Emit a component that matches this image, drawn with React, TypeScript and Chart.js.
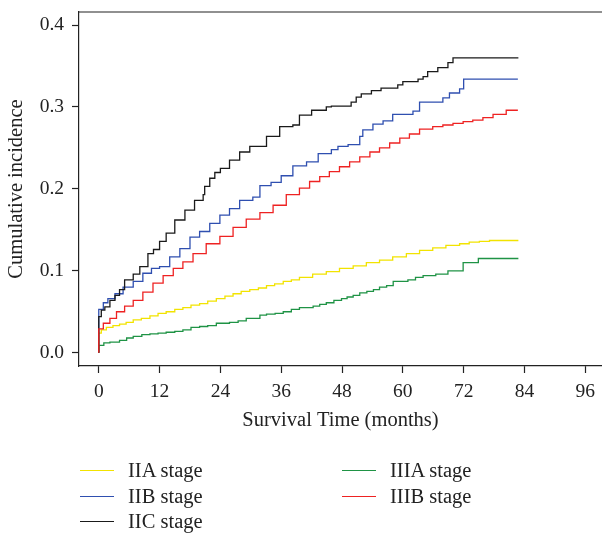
import React, { useEffect, useRef } from "react";
import { Chart, registerables } from "chart.js";

Chart.register(...registerables);

const FONT = '"Liberation Serif", "DejaVu Serif", serif';
const INK = "#222222";

// Axis ticks
const X_TICKS = [0, 12, 24, 36, 48, 60, 72, 84, 96];
const Y_TICKS = [0, 0.1, 0.2, 0.3, 0.4];
const X_MIN = -3.9;
const X_MAX = 99.3;
const Y_MIN = -0.0162;
const Y_MAX = 0.4159;

// IIA stage
const IIA_T = [0, 0, 0.5, 1.5, 2.8, 4.1, 5.4, 6.8, 8.4, 10.1, 11.7, 13.3, 15, 16.6, 18.2, 19.9, 21.5, 23.2, 24.9, 26.5, 28.1, 29.8, 31.5, 33.1, 34.7, 36.4, 38, 39.6, 42.2, 44.9, 47.5, 50.2, 52.8, 55.4, 58, 60.7, 63.3, 65.9, 68.5, 71.2, 73.1, 75.1, 77.1, 79.1, 82.8];
const IIA_V = [0, 0.016, 0.024, 0.028, 0.031, 0.033, 0.035, 0.037, 0.04, 0.042, 0.045, 0.048, 0.05, 0.053, 0.055, 0.058, 0.06, 0.063, 0.066, 0.069, 0.072, 0.075, 0.077, 0.079, 0.082, 0.084, 0.087, 0.089, 0.092, 0.096, 0.099, 0.103, 0.106, 0.11, 0.113, 0.117, 0.121, 0.125, 0.128, 0.131, 0.133, 0.135, 0.136, 0.137, 0.137];

// IIB stage
const IIB_T = [0, 0, 0.9, 1.8, 3.2, 4.8, 6.8, 8.7, 10.4, 12, 14, 16, 18, 19.9, 21.9, 23.9, 25.8, 27.8, 30.4, 31.8, 34, 36, 38.3, 41, 43.3, 45.9, 47.2, 49.2, 51.5, 52.1, 54.1, 56.1, 58, 62, 63.3, 67.9, 69.2, 71.2, 72, 73, 82.7];
const IIB_V = [0, 0.042, 0.053, 0.061, 0.066, 0.072, 0.08, 0.087, 0.097, 0.103, 0.105, 0.117, 0.127, 0.141, 0.148, 0.158, 0.168, 0.176, 0.186, 0.19, 0.204, 0.208, 0.216, 0.228, 0.233, 0.243, 0.248, 0.252, 0.254, 0.264, 0.272, 0.279, 0.283, 0.291, 0.295, 0.306, 0.311, 0.317, 0.322, 0.334, 0.334];

// IIC stage
const IIC_T = [0, 0, 0.5, 1.2, 2.2, 3.2, 4.1, 5.1, 6.8, 8.1, 9.7, 10.8, 12, 13.3, 15, 17, 18.9, 20.6, 20.9, 21.9, 22.9, 24, 25.8, 27.8, 29.8, 33.1, 35.7, 38.3, 39.6, 42, 44.9, 45.9, 49.8, 50.8, 51.8, 53.8, 55.7, 59, 60, 63, 64, 64.9, 66.9, 68.9, 69.9, 71.9, 82.8];
const IIC_V = [0, 0.036, 0.044, 0.052, 0.056, 0.064, 0.07, 0.077, 0.089, 0.096, 0.105, 0.121, 0.126, 0.136, 0.146, 0.162, 0.174, 0.186, 0.193, 0.203, 0.213, 0.22, 0.225, 0.235, 0.245, 0.252, 0.264, 0.276, 0.278, 0.29, 0.296, 0.3, 0.301, 0.306, 0.312, 0.316, 0.32, 0.323, 0.327, 0.331, 0.334, 0.337, 0.343, 0.348, 0.354, 0.36, 0.36];

// IIIA stage
const IIIA_T = [0, 0, 1, 2.2, 4.1, 5.5, 6.8, 8.5, 10.1, 11.7, 13.3, 15, 16.6, 18.2, 19.9, 21.5, 23.2, 25.8, 27.5, 29.1, 31.8, 33.1, 34.8, 36.4, 38, 39.6, 42.3, 43.6, 44.9, 46.4, 47.9, 49, 50.2, 51.5, 52.9, 54.2, 55.4, 56.8, 58.1, 61, 62.5, 64, 66.5, 68.9, 71.9, 74.9, 75.9, 82.8];
const IIIA_V = [0, 0.003, 0.009, 0.012, 0.013, 0.015, 0.018, 0.02, 0.022, 0.023, 0.024, 0.025, 0.026, 0.028, 0.031, 0.032, 0.033, 0.036, 0.037, 0.039, 0.042, 0.046, 0.047, 0.048, 0.05, 0.053, 0.055, 0.057, 0.059, 0.061, 0.064, 0.066, 0.068, 0.07, 0.073, 0.075, 0.077, 0.08, 0.082, 0.087, 0.089, 0.092, 0.094, 0.096, 0.1, 0.11, 0.115, 0.115];

// IIIB stage
const IIIB_T = [0, 0, 0.9, 2.2, 3.5, 5.1, 6.8, 8.7, 10.7, 12.7, 14.7, 16.6, 18.6, 21.2, 23.9, 26.5, 29.1, 31.8, 34.4, 37, 39.6, 41.6, 43.6, 45.5, 47.5, 49.5, 51.5, 53.5, 55.4, 57.4, 59.4, 61.3, 63.3, 65.9, 67.9, 69.9, 71.9, 73.8, 75.8, 77.8, 80.4, 82.7];
const IIIB_V = [0, 0.02, 0.029, 0.036, 0.042, 0.05, 0.057, 0.064, 0.074, 0.085, 0.094, 0.103, 0.111, 0.121, 0.133, 0.142, 0.153, 0.163, 0.171, 0.18, 0.193, 0.201, 0.209, 0.215, 0.221, 0.227, 0.233, 0.239, 0.245, 0.25, 0.256, 0.262, 0.267, 0.273, 0.276, 0.278, 0.28, 0.282, 0.284, 0.287, 0.291, 0.296];

const LABELS = ["IIA stage", "IIB stage", "IIC stage", "IIIA stage", "IIIB stage"];
const COLORS = ["#f2e300", "#2f4fb0", "#1a1a1a", "#1f9345", "#ee2222"];
const TIMES = [IIA_T, IIB_T, IIC_T, IIIA_T, IIIB_T];
const VALUES = [IIA_V, IIB_V, IIC_V, IIIA_V, IIIB_V];

export default function App() {
  const ref = useRef<HTMLCanvasElement>(null);

  useEffect(() => {
    if (!ref.current) return;
    const topBorder = {
      id: "topBorder",
      afterDatasetsDraw(chart: any) {
        const { ctx, chartArea } = chart;
        ctx.save();
        ctx.strokeStyle = INK;
        ctx.lineWidth = 1.2;
        ctx.beginPath();
        ctx.moveTo(chartArea.left, chartArea.top);
        ctx.lineTo(chartArea.right, chartArea.top);
        ctx.stroke();
        ctx.restore();
      },
    };
    const order = [3, 0, 1, 2, 4];
    const chart = new Chart(ref.current, {
      type: "line",
      data: {
        datasets: LABELS.map((label, i) => ({
          label,
          data: TIMES[i].map((t, j) => ({ x: t, y: VALUES[i][j] })),
          borderColor: COLORS[i],
          backgroundColor: COLORS[i],
          borderWidth: 1.3,
          pointRadius: 0,
          stepped: "after" as const,
          fill: false,
          order: 5 - order.indexOf(i),
        })),
      },
      options: {
        responsive: false,
        animation: false,
        events: [],
        layout: { padding: { top: 12, left: 0, right: 0, bottom: 0 } },
        plugins: { legend: { display: false }, tooltip: { enabled: false } },
        scales: {
          x: {
            type: "linear",
            min: X_MIN,
            max: X_MAX,
            afterBuildTicks: (s: any) => {
              s.ticks = X_TICKS.map((v) => ({ value: v }));
            },
            afterFit: (s: any) => {
              s.height = 169;
              s.paddingLeft = 0;
              s.paddingRight = 0;
            },
            ticks: {
              autoSkip: false,
              maxRotation: 0,
              padding: 7,
              color: INK,
              font: { family: FONT, size: 19.5 },
              callback: (v: any) => String(v),
            },
            grid: { display: true, drawOnChartArea: false, drawTicks: true, tickLength: 7, tickColor: INK, tickWidth: 1.2 },
            border: { display: true, color: INK, width: 1.2 },
            title: {
              display: true,
              text: "Survival Time (months)",
              color: INK,
              font: { family: FONT, size: 20.5 },
              padding: { top: 4, bottom: 101.7 },
            },
          },
          y: {
            type: "linear",
            min: Y_MIN,
            max: Y_MAX,
            afterBuildTicks: (s: any) => {
              s.ticks = Y_TICKS.map((v) => ({ value: v }));
            },
            afterFit: (s: any) => {
              s.width = 79;
              s.paddingTop = 0;
              s.paddingBottom = 0;
            },
            ticks: {
              padding: 8,
              color: INK,
              font: { family: FONT, size: 19.5 },
              callback: (v: any) => Number(v).toFixed(1),
            },
            grid: { display: true, drawOnChartArea: false, drawTicks: true, tickLength: 7, tickColor: INK, tickWidth: 1.2 },
            border: { display: true, color: INK, width: 1.2 },
            title: {
              display: true,
              text: "Cumulative incidence",
              color: INK,
              font: { family: FONT, size: 20.5 },
              padding: { top: 4.7, bottom: 0 },
            },
          },
        },
      },
      plugins: [topBorder],
    });
    return () => chart.destroy();
  }, []);

  return (
    <div style={{ position: "absolute", left: 0, top: 0, width: 602, height: 535, background: "#fff", overflow: "hidden" }}>
      <canvas ref={ref} width={602} height={535} style={{ display: "block" }} />
      <div
        style={{
          position: "absolute",
          left: 80,
          top: 458,
          display: "grid",
          gridTemplateColumns: "262px 262px",
          gridTemplateRows: "repeat(3, 25.5px)",
          gridAutoFlow: "column",
          fontFamily: FONT,
          fontSize: 20.5,
          color: INK,
        }}
      >
        {LABELS.map((label, i) => (
          <div key={label} style={{ display: "flex", alignItems: "center", whiteSpace: "nowrap" }}>
            <span style={{ display: "inline-block", width: 34, height: 0, borderTop: `1.5px solid ${COLORS[i]}`, marginRight: 14 }} />
            <span style={{ lineHeight: "25.5px" }}>{label}</span>
          </div>
        ))}
      </div>
    </div>
  );
}
